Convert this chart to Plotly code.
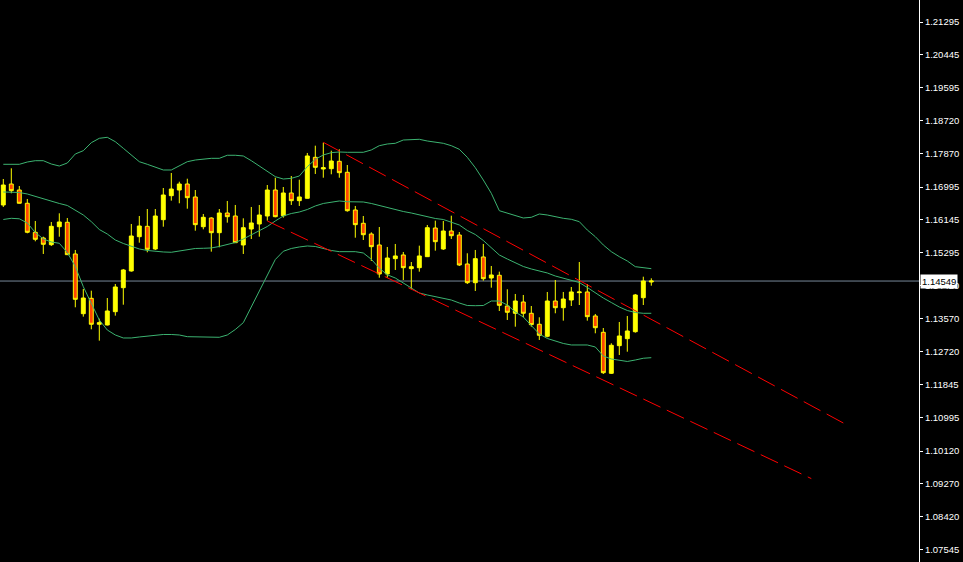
import plotly.graph_objects as go

# ---------------- data ----------------
bars = list(range(82))

opens = [1.16530, 1.17076, 1.16920, 1.16574, 1.15818, 1.15670, 1.15496, 1.15964, 1.16079, 1.15254,
         1.13699, 1.14099, 1.13423, 1.13405, 1.13751, 1.14376, 1.14811, 1.15704, 1.15974, 1.15384,
         1.16147, 1.16772, 1.16920, 1.17076, 1.16738, 1.15964, 1.16191, 1.15808, 1.16321, 1.16243,
         1.15488, 1.15904, 1.16035, 1.16243, 1.16920, 1.16251, 1.16842, 1.16642, 1.16704, 1.17771,
         1.17467, 1.17475, 1.17667, 1.17381, 1.16399, 1.16053, 1.15774, 1.15488, 1.14733, 1.15132,
         1.15228, 1.14871, 1.14897, 1.15184, 1.15930, 1.15384, 1.15852, 1.15748, 1.14993, 1.14506,
         1.15176, 1.14628, 1.14699, 1.13899, 1.13709, 1.14003, 1.13709, 1.13423, 1.13110, 1.14029,
         1.13855, 1.14055, 1.14246, 1.14264, 1.13639, 1.13214, 1.12146, 1.12866, 1.13048, 1.13230,
         1.14115, 1.14524]

highs = [1.17206, 1.17485, 1.17024, 1.16686, 1.16113, 1.15704, 1.16087, 1.16313, 1.16191, 1.15358,
         1.14342, 1.14298, 1.13569, 1.14107, 1.14472, 1.14863, 1.16035, 1.16243, 1.16425, 1.16425,
         1.16972, 1.17363, 1.17136, 1.17214, 1.16920, 1.16295, 1.16209, 1.16425, 1.16634, 1.16530,
         1.16183, 1.16478, 1.16530, 1.17050, 1.17240, 1.16998, 1.17284, 1.17188, 1.17884, 1.18074,
         1.18152, 1.17944, 1.17980, 1.17571, 1.16504, 1.16243, 1.15818, 1.15956, 1.15436, 1.15514,
         1.15306, 1.15045, 1.15470, 1.16009, 1.16121, 1.16113, 1.16251, 1.15826, 1.15272, 1.15358,
         1.15514, 1.14941, 1.14793, 1.14334, 1.14212, 1.14186, 1.13899, 1.13605, 1.14264, 1.14576,
         1.14264, 1.14394, 1.15045, 1.14472, 1.13691, 1.13326, 1.12928, 1.13483, 1.13639, 1.14212,
         1.14662, 1.14620]

lows = [1.16478, 1.16834, 1.16569, 1.15792, 1.15584, 1.15254, 1.15462, 1.15704, 1.15228, 1.13865,
        1.13621, 1.13292, 1.12996, 1.13392, 1.13647, 1.13933, 1.14793, 1.15548, 1.15298, 1.15358,
        1.15964, 1.16642, 1.16574, 1.16433, 1.15860, 1.15896, 1.15314, 1.15428, 1.16069, 1.15540,
        1.15254, 1.15644, 1.15704, 1.16121, 1.16209, 1.16199, 1.16530, 1.16504, 1.16700, 1.17337,
        1.17240, 1.17329, 1.17240, 1.16355, 1.15678, 1.15618, 1.15071, 1.14636, 1.14636, 1.14837,
        1.14576, 1.14334, 1.14793, 1.15180, 1.15340, 1.15358, 1.15644, 1.14941, 1.14472, 1.14290,
        1.14558, 1.14376, 1.13769, 1.13535, 1.13360, 1.13605, 1.13360, 1.13014, 1.13084, 1.13709,
        1.13517, 1.13899, 1.13925, 1.13517, 1.13188, 1.12128, 1.12128, 1.12623, 1.12709, 1.13204,
        1.13925, 1.14428]

closes = [1.17050, 1.16902, 1.16574, 1.15818, 1.15636, 1.15506, 1.15974, 1.16087, 1.15236, 1.14073,
          1.14107, 1.13423, 1.13465, 1.13769, 1.14394, 1.14837, 1.15722, 1.15982, 1.15376, 1.16243,
          1.16790, 1.16946, 1.17076, 1.16720, 1.16017, 1.16209, 1.15808, 1.16321, 1.16225, 1.15548,
          1.15938, 1.16061, 1.16269, 1.16920, 1.16225, 1.16842, 1.16642, 1.16738, 1.17806, 1.17511,
          1.17501, 1.17675, 1.17371, 1.16381, 1.16017, 1.15756, 1.15444, 1.14733, 1.15149, 1.15202,
          1.14897, 1.14923, 1.15202, 1.15938, 1.15574, 1.15852, 1.15730, 1.14967, 1.14506, 1.15132,
          1.14610, 1.14707, 1.13917, 1.13735, 1.14029, 1.13709, 1.13413, 1.13136, 1.14029, 1.13855,
          1.14081, 1.14264, 1.14264, 1.13621, 1.13334, 1.12162, 1.12876, 1.13118, 1.13248, 1.14186,
          1.14550, 1.14549]

bb_upper = [1.17589, 1.17589, 1.17589, 1.17649, 1.17683, 1.17683, 1.17597, 1.17545, 1.17623, 1.17858,
            1.17944, 1.18152, 1.18266, 1.18292, 1.18178, 1.18006, 1.17832, 1.17657, 1.17589, 1.17511,
            1.17441, 1.17441, 1.17545, 1.17657, 1.17701, 1.17727, 1.17745, 1.17745, 1.17824, 1.17824,
            1.17806, 1.17683, 1.17545, 1.17397, 1.17267, 1.17206, 1.17224, 1.17284, 1.17527, 1.17719,
            1.17832, 1.17892, 1.17910, 1.17902, 1.17902, 1.17902, 1.17962, 1.18074, 1.18118, 1.18136,
            1.18222, 1.18240, 1.18240, 1.18196, 1.18162, 1.18136, 1.18074, 1.17980, 1.17771, 1.17501,
            1.17180, 1.16834, 1.16381, 1.16313, 1.16243, 1.16191, 1.16209, 1.16295, 1.16269, 1.16225,
            1.16183, 1.16157, 1.16095, 1.15878, 1.15704, 1.15488, 1.15314, 1.15184, 1.15071, 1.14923,
            1.14897, 1.14871]

bb_middle = [1.16868, 1.16868, 1.16855, 1.16816, 1.16751, 1.16686, 1.16621, 1.16569, 1.16517, 1.16399,
             1.16269, 1.16095, 1.15891, 1.15774, 1.15618, 1.15527, 1.15449, 1.15384, 1.15345, 1.15319,
             1.15306, 1.15298, 1.15332, 1.15358, 1.15397, 1.15402, 1.15410, 1.15449, 1.15501, 1.15553,
             1.15644, 1.15748, 1.15852, 1.15969, 1.16113, 1.16243, 1.16308, 1.16347, 1.16412, 1.16504,
             1.16569, 1.16608, 1.16634, 1.16615, 1.16615, 1.16608, 1.16569, 1.16517, 1.16451, 1.16399,
             1.16360, 1.16321, 1.16269, 1.16217, 1.16178, 1.16152, 1.16087, 1.16009, 1.15865, 1.15761,
             1.15605, 1.15410, 1.15228, 1.15123, 1.15019, 1.14928, 1.14863, 1.14811, 1.14759, 1.14680,
             1.14628, 1.14563, 1.14511, 1.14381, 1.14238, 1.14107, 1.13990, 1.13873, 1.13782, 1.13730,
             1.13709, 1.13709]

bb_lower = [1.16152, 1.16183, 1.16170, 1.16061, 1.15813, 1.15644, 1.15566, 1.15532, 1.15293, 1.14928,
            1.14402, 1.13977, 1.13535, 1.13274, 1.13144, 1.13066, 1.13066, 1.13092, 1.13118, 1.13144,
            1.13157, 1.13157, 1.13144, 1.13100, 1.13092, 1.13084, 1.13084, 1.13084, 1.13144, 1.13287,
            1.13465, 1.13886, 1.14272, 1.14715, 1.15110, 1.15324, 1.15397, 1.15436, 1.15462, 1.15449,
            1.15397, 1.15345, 1.15314, 1.15314, 1.15314, 1.15280, 1.15116, 1.14884, 1.14712, 1.14628,
            1.14493, 1.14355, 1.14238, 1.14186, 1.14147, 1.14107, 1.14055, 1.13977, 1.13912, 1.13907,
            1.13912, 1.14029, 1.14029, 1.13925, 1.13743, 1.13613, 1.13378, 1.13170, 1.13053, 1.12988,
            1.12923, 1.12884, 1.12884, 1.12884, 1.12832, 1.12597, 1.12519, 1.12480, 1.12454, 1.12493,
            1.12538, 1.12553]

# channel trend lines (bar index, price)
upper_line_x = [40, 105]
upper_line_y = [1.18162, 1.10852]
lower_line_x = [33, 101]
lower_line_y = [1.16113, 1.09404]

current_price = 1.14549

tick_labels = ["1.21295", "1.20445", "1.19595", "1.18720", "1.17870", "1.16995", "1.16145",
               "1.15295", "1.14420", "1.13570", "1.12720", "1.11845", "1.10995", "1.10120",
               "1.09270", "1.08420", "1.07545"]
tick_values = [float(t) for t in tick_labels]

# ---------------- figure ----------------
FONT = "Liberation Sans"
GREEN = "#3CB371"

fig = go.Figure()

fig.add_trace(go.Candlestick(
    x=bars, open=opens, high=highs, low=lows, close=closes,
    increasing=dict(line=dict(color="#FFFF00", width=1), fillcolor="#FFFF00"),
    decreasing=dict(line=dict(color="#FFFF00", width=1), fillcolor="#FF4500"),
    whiskerwidth=0, hoverinfo="skip", showlegend=False,
))

for band in (bb_upper, bb_middle, bb_lower):
    fig.add_trace(go.Scatter(
        x=bars, y=band, mode="lines",
        line=dict(color=GREEN, width=1),
        hoverinfo="skip", showlegend=False,
    ))

for lx, ly in ((upper_line_x, upper_line_y), (lower_line_x, lower_line_y)):
    fig.add_trace(go.Scatter(
        x=lx, y=ly, mode="lines",
        line=dict(color="#FF0000", width=1, dash="19px,7px"),
        hoverinfo="skip", showlegend=False,
    ))

fig.add_shape(
    type="line", xref="paper", x0=0, x1=1, yref="y", y0=current_price, y1=current_price,
    line=dict(color="#778899", width=1), layer="below",
)

fig.add_annotation(
    xref="paper", x=1, xanchor="left", xshift=1,
    yref="y", y=current_price, yanchor="middle",
    text=f"{current_price:.5f}", showarrow=False,
    bgcolor="white", font=dict(color="black", family=FONT, size=9.5),
    borderpad=1,
)

fig.update_layout(
    width=963, height=562,
    margin=dict(l=0, r=44, t=0, b=0),
    paper_bgcolor="black", plot_bgcolor="black",
    showlegend=False,
    xaxis=dict(range=[-0.4125, 114.46], visible=False,
               rangeslider=dict(visible=False), fixedrange=True),
    yaxis=dict(
        range=[1.07232, 1.21868], side="right",
        tickvals=tick_values, ticktext=tick_labels,
        showgrid=False, zeroline=False,
        showline=True, linecolor="white", linewidth=1,
        ticks="outside", ticklen=3, tickcolor="white", tickwidth=1,
        tickfont=dict(color="white", family=FONT, size=9.5),
        fixedrange=True,
    ),
)

fig.write_html(
    "out.html",
    config={"displayModeBar": False, "staticPlot": True},
    post_script="document.body.style.margin='0';document.body.style.overflow='hidden';",
)
